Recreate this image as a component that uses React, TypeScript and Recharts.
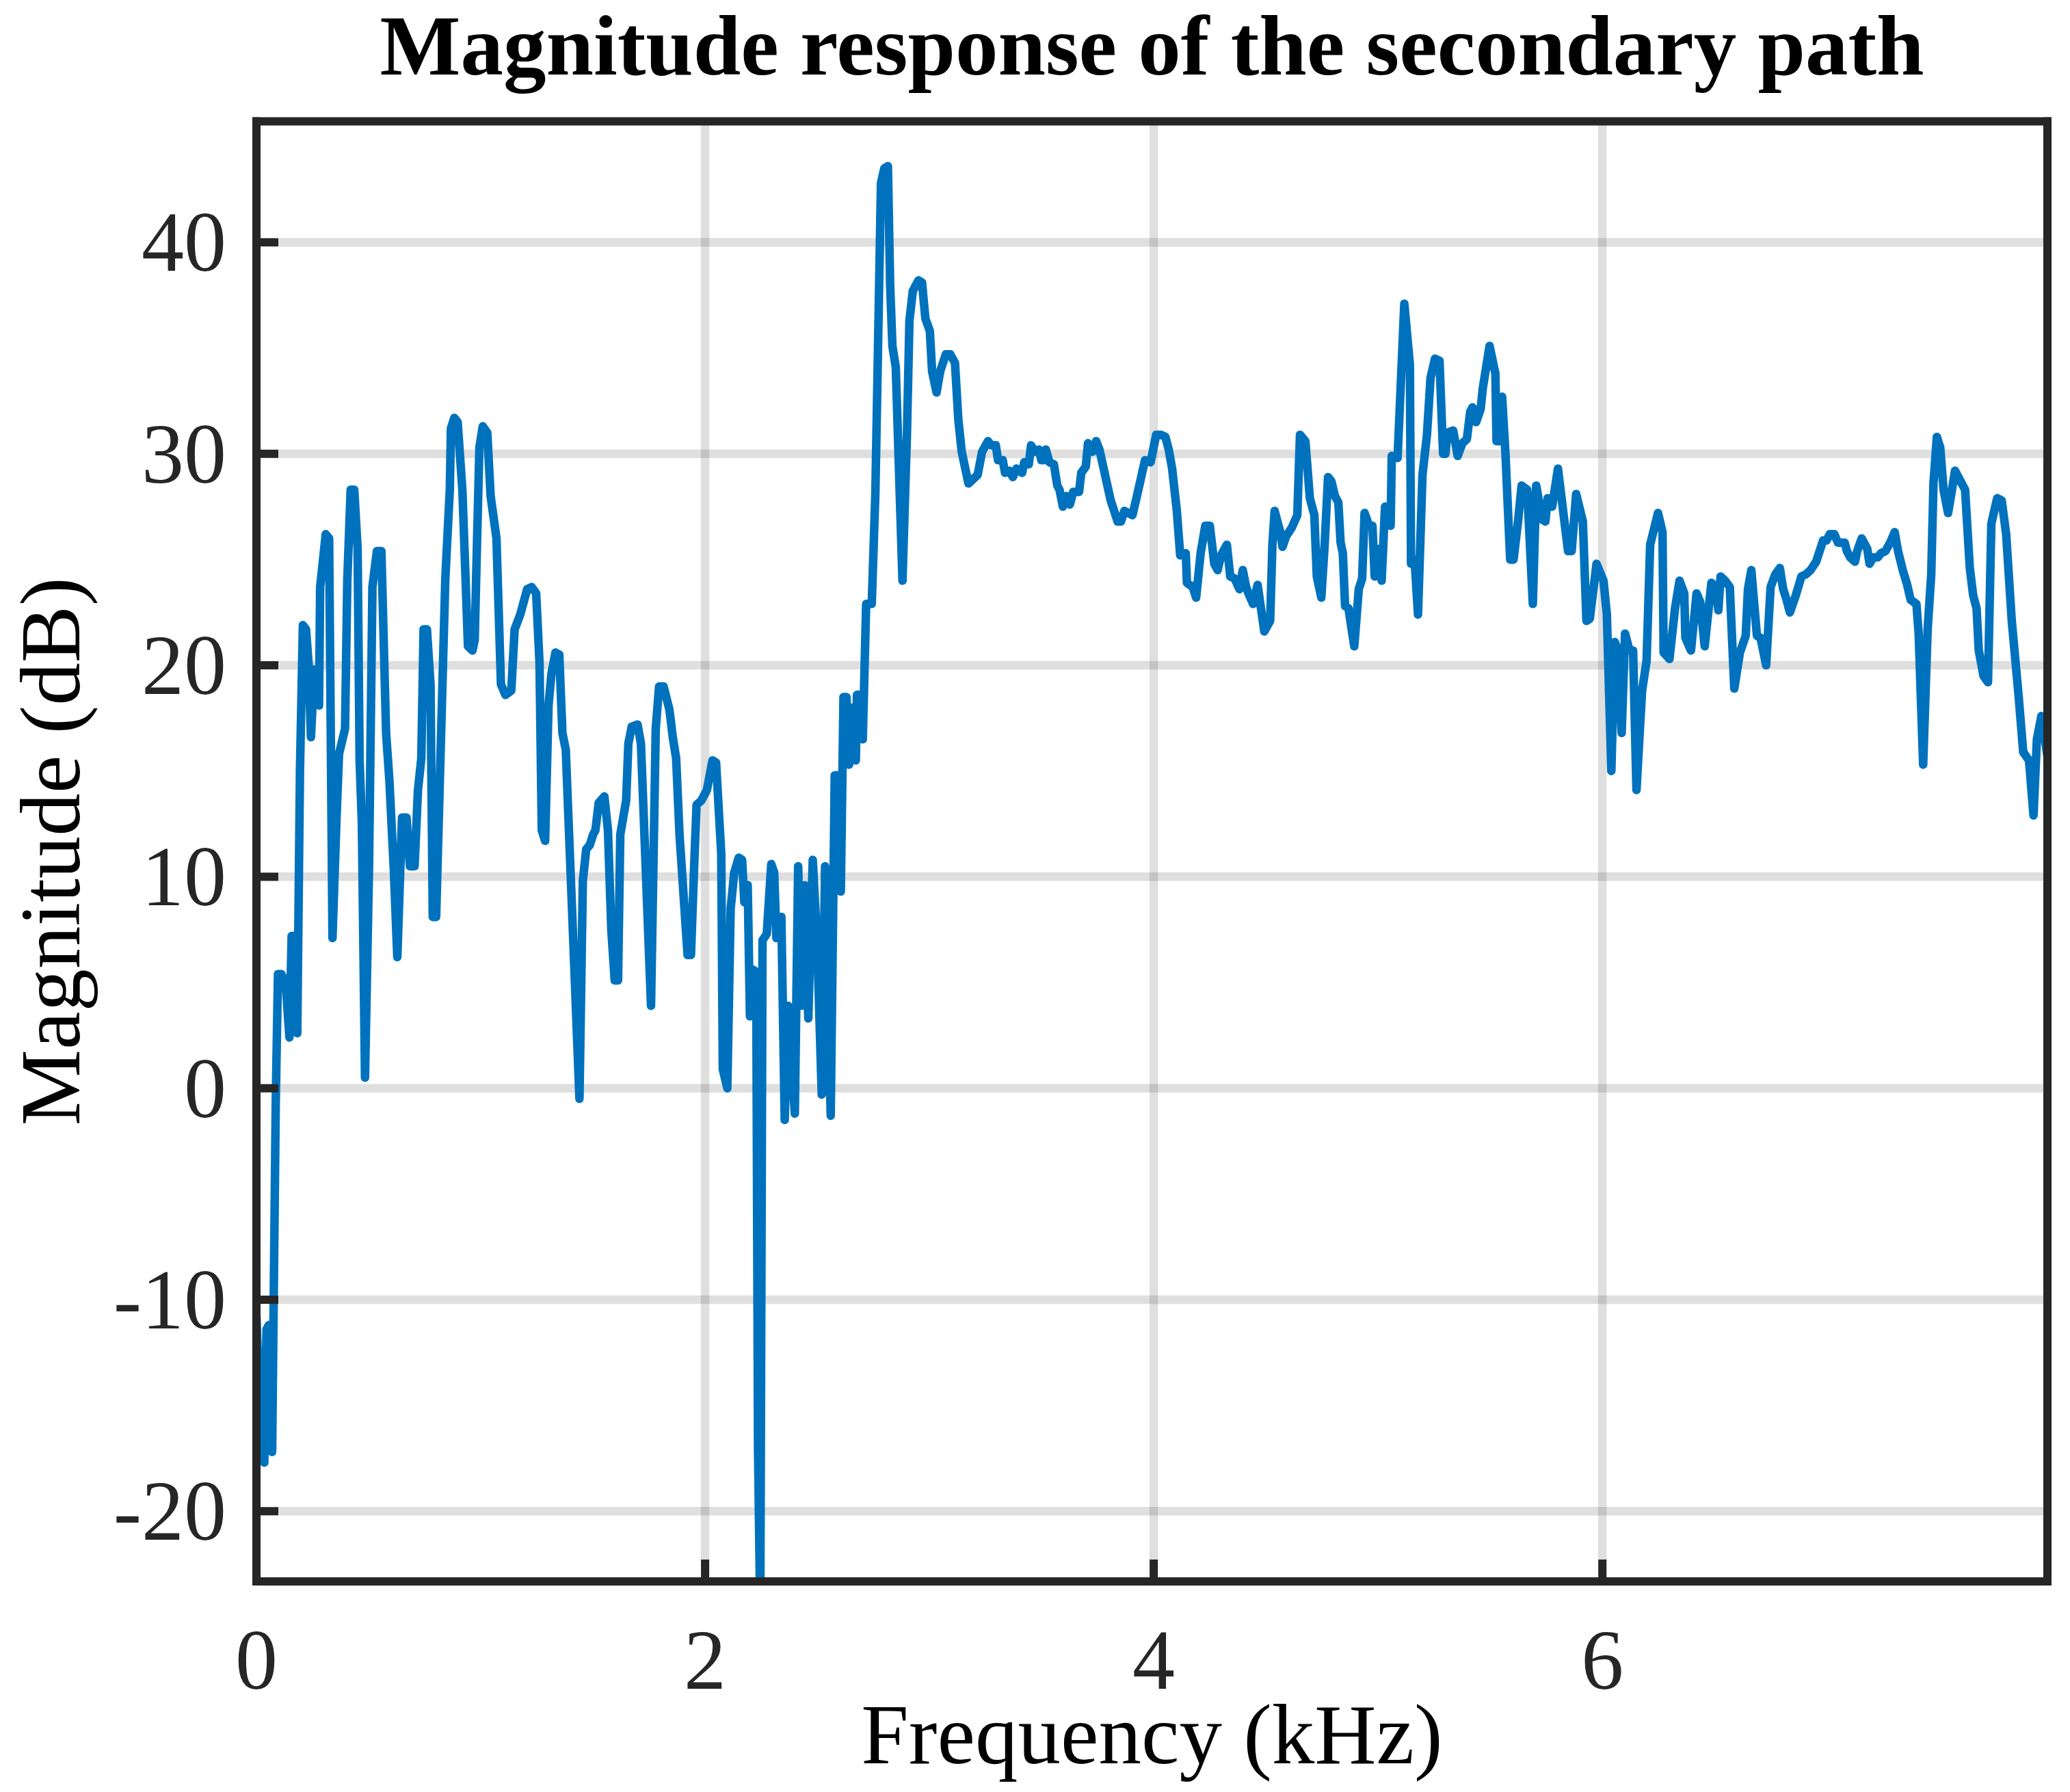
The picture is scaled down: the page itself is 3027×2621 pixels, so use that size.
import React from 'react';
import { LineChart, Line, XAxis, YAxis, CartesianGrid } from 'recharts';

const freqKHz = [
  0, 0.005, 0.035, 0.045, 0.055, 0.07, 0.086, 0.096, 0.111, 0.131, 0.147, 0.157, 0.167, 0.182, 0.194, 0.207,
  0.221, 0.233, 0.243, 0.258, 0.279, 0.284, 0.309, 0.324, 0.339, 0.357, 0.368, 0.395, 0.405, 0.42, 0.436, 0.451,
  0.46, 0.47, 0.484, 0.502, 0.517, 0.537, 0.557, 0.578, 0.593, 0.613, 0.628, 0.649, 0.669, 0.684, 0.705, 0.72,
  0.735, 0.745, 0.76, 0.776, 0.786, 0.801, 0.831, 0.842, 0.862, 0.867, 0.882, 0.897, 0.918, 0.943, 0.963, 0.973,
  0.983, 0.994, 1.009, 1.029, 1.044, 1.07, 1.09, 1.11, 1.136, 1.151, 1.176, 1.207, 1.227, 1.247, 1.262, 1.272,
  1.287, 1.302, 1.315, 1.333, 1.35, 1.364, 1.379, 1.44, 1.455, 1.47, 1.486, 1.501, 1.511, 1.526, 1.551, 1.567,
  1.582, 1.597, 1.612, 1.622, 1.648, 1.658, 1.673, 1.699, 1.714, 1.759, 1.78, 1.795, 1.815, 1.841, 1.856, 1.871,
  1.886, 1.922, 1.937, 1.952, 1.962, 1.983, 2.008, 2.033, 2.049, 2.072, 2.079, 2.099, 2.114, 2.13, 2.15, 2.165,
  2.175, 2.19, 2.2, 2.215, 2.228, 2.236, 2.246, 2.256, 2.275, 2.295, 2.308, 2.318, 2.34, 2.355, 2.37, 2.4,
  2.415, 2.43, 2.445, 2.46, 2.48, 2.5, 2.52, 2.535, 2.56, 2.578, 2.592, 2.605, 2.617, 2.63, 2.642, 2.652,
  2.672, 2.677, 2.69, 2.703, 2.718, 2.743, 2.759, 2.769, 2.784, 2.799, 2.815, 2.825, 2.835, 2.85, 2.88, 2.9,
  2.911, 2.926, 2.951, 2.967, 2.982, 3.002, 3.012, 3.032, 3.048, 3.073, 3.093, 3.114, 3.129, 3.144, 3.174, 3.215,
  3.235, 3.261, 3.276, 3.296, 3.306, 3.327, 3.337, 3.357, 3.372, 3.388, 3.413, 3.423, 3.443, 3.453, 3.469, 3.489,
  3.499, 3.509, 3.519, 3.535, 3.555, 3.57, 3.58, 3.595, 3.611, 3.626, 3.641, 3.667, 3.677, 3.697, 3.707, 3.727,
  3.743, 3.758, 3.783, 3.808, 3.839, 3.854, 3.869, 3.905, 3.925, 3.94, 3.961, 3.986, 4.011, 4.032, 4.052, 4.067,
  4.082, 4.103, 4.118, 4.143, 4.148, 4.174, 4.189, 4.209, 4.23, 4.25, 4.27, 4.285, 4.3, 4.326, 4.341, 4.361,
  4.382, 4.397, 4.412, 4.422, 4.443, 4.463, 4.478, 4.493, 4.519, 4.529, 4.539, 4.564, 4.574, 4.59, 4.615, 4.64,
  4.652, 4.676, 4.696, 4.716, 4.727, 4.747, 4.762, 4.777, 4.792, 4.808, 4.823, 4.833, 4.843, 4.853, 4.868, 4.894,
  4.914, 4.929, 4.94, 4.96, 4.975, 4.985, 5.0, 5.016, 5.031, 5.056, 5.061, 5.087, 5.117, 5.142, 5.147, 5.163,
  5.178, 5.198, 5.218, 5.234, 5.254, 5.274, 5.29, 5.3, 5.31, 5.335, 5.355, 5.376, 5.396, 5.411, 5.421, 5.437,
  5.457, 5.467, 5.497, 5.523, 5.528, 5.543, 5.553, 5.568, 5.589, 5.604, 5.624, 5.64, 5.665, 5.69, 5.705, 5.731,
  5.746, 5.756, 5.776, 5.802, 5.832, 5.847, 5.863, 5.883, 5.913, 5.929, 5.944, 5.974, 6.005, 6.02, 6.04, 6.055,
  6.07, 6.086, 6.101, 6.121, 6.137, 6.152, 6.177, 6.197, 6.213, 6.248, 6.268, 6.273, 6.299, 6.324, 6.344, 6.365,
  6.37, 6.395, 6.42, 6.436, 6.456, 6.486, 6.507, 6.517, 6.527, 6.547, 6.568, 6.588, 6.613, 6.639, 6.649, 6.664,
  6.689, 6.705, 6.73, 6.75, 6.771, 6.791, 6.806, 6.821, 6.836, 6.862, 6.887, 6.907, 6.928, 6.953, 6.984, 6.999,
  7.014, 7.034, 7.05, 7.08, 7.09, 7.105, 7.126, 7.136, 7.156, 7.181, 7.191, 7.207, 7.227, 7.242, 7.262, 7.283,
  7.303, 7.318, 7.339, 7.359, 7.374, 7.4, 7.41, 7.43, 7.45, 7.466, 7.476, 7.491, 7.506, 7.521, 7.541, 7.557,
  7.572, 7.597, 7.617, 7.638, 7.653, 7.668, 7.678, 7.699, 7.719, 7.734, 7.76, 7.78, 7.8, 7.825, 7.856, 7.876,
  7.902, 7.922, 7.937, 7.957, 7.984,
];

const magDB = [
  -10.8, -12.3, -17.7, -11.4, -11.2, -17.2, -0.7, 5.4, 5.4, 4.9, 2.4, 7.2, 7.2, 2.6, 15.0, 21.9,
  21.7, 20.0, 16.6, 19.8, 18.1, 23.7, 26.2, 26.0, 7.1, 12.8, 15.8, 17.0, 24.0, 28.3, 28.3, 25.5,
  15.5, 12.5, 0.5, 10.5, 23.7, 25.4, 25.4, 16.8, 14.5, 10.2, 6.2, 12.8, 12.8, 10.5, 10.5, 14.1,
  15.6, 21.7, 21.7, 19.1, 8.1, 8.1, 19.8, 24.1, 28.3, 31.2, 31.7, 31.5, 28.3, 20.9, 20.7, 21.2,
  25.7, 30.3, 31.3, 31.0, 28.0, 26.0, 19.1, 18.6, 18.8, 21.7, 22.4, 23.6, 23.7, 23.4, 20.1, 12.2,
  11.7, 18.1, 19.6, 20.6, 20.5, 16.8, 16.0, -0.5, 9.8, 11.3, 11.5, 12.0, 12.2, 13.5, 13.8, 12.2,
  7.5, 5.1, 5.1, 12.0, 13.6, 16.3, 17.1, 17.2, 16.3, 3.9, 17.0, 19.0, 19.0, 17.9, 16.6, 15.6,
  12.0, 6.3, 6.3, 10.7, 13.4, 13.6, 14.1, 15.5, 15.4, 11.1, 0.9, 0.0, 8.5, 10.2, 10.9, 10.8,
  8.8, 9.6, 3.4, 5.6, 5.5, -17.0, -25.0, 7.0, 7.3, 10.6, 10.2, 7.1, 8.1, -1.5, 3.9, -1.2,
  10.5, 3.9, 9.6, 3.3, 10.8, 6.8, -0.3, 10.5, -1.3, 14.8, 14.8, 9.3, 18.5, 18.5, 15.3, 18.0,
  15.5, 18.6, 18.6, 16.5, 22.9, 22.9, 28.1, 33.9, 42.8, 43.5, 43.6, 38.0, 35.1, 34.1, 24.0, 31.0,
  36.3, 37.7, 38.2, 38.1, 36.4, 35.8, 33.9, 32.9, 33.9, 34.7, 34.7, 34.3, 31.6, 30.1, 28.6, 29.0,
  30.1, 30.6, 30.4, 30.4, 29.7, 29.7, 29.1, 29.2, 28.9, 29.3, 29.1, 29.6, 29.5, 30.4, 30.1, 30.2,
  29.7, 29.7, 30.2, 29.6, 29.5, 28.5, 28.3, 27.5, 28.0, 27.6, 28.2, 28.2, 29.1, 29.4, 30.5, 30.1,
  30.6, 30.2, 29.0, 27.8, 26.8, 26.8, 27.3, 27.1, 28.0, 28.7, 29.7, 29.6, 30.9, 30.9, 30.8, 30.2,
  29.3, 27.3, 25.2, 25.3, 23.9, 23.7, 23.2, 25.3, 26.6, 26.6, 24.8, 24.5, 25.2, 25.7, 24.2, 24.1,
  23.6, 24.5, 23.7, 23.4, 22.9, 23.8, 22.7, 21.6, 22.1, 25.7, 27.3, 26.3, 25.6, 26.1, 26.5, 27.1,
  30.9, 30.6, 27.9, 27.1, 24.2, 23.2, 25.7, 28.9, 28.7, 28.0, 27.7, 25.8, 25.3, 22.8, 22.7, 20.9,
  23.6, 24.1, 27.2, 26.6, 26.6, 24.2, 25.5, 24.0, 27.5, 26.6, 29.9, 29.8, 37.1, 34.2, 24.8, 25.0,
  22.4, 29.0, 30.9, 33.6, 34.5, 34.4, 30.0, 30.0, 31.0, 31.1, 29.9, 30.5, 30.7, 32.0, 32.2, 31.5,
  32.1, 33.1, 35.1, 33.8, 30.6, 30.6, 32.7, 30.0, 25.0, 25.0, 26.8, 28.5, 28.3, 22.9, 28.5, 26.9,
  26.8, 27.9, 27.5, 29.3, 26.7, 25.4, 25.4, 28.1, 26.8, 22.1, 22.2, 24.8, 24.0, 22.4, 15.0, 21.1,
  20.7, 16.8, 21.5, 20.7, 20.7, 14.1, 18.8, 20.2, 25.7, 27.2, 26.3, 20.6, 20.3, 22.7, 24.0, 23.4,
  21.3, 20.7, 23.4, 23.0, 20.9, 23.9, 23.7, 22.6, 24.2, 24.0, 23.7, 18.9, 20.6, 21.4, 23.6, 24.5,
  21.4, 21.3, 20.0, 23.7, 24.3, 24.6, 23.6, 23.1, 22.5, 23.3, 24.2, 24.3, 24.5, 24.9, 25.9, 25.9,
  26.2, 26.2, 25.8, 25.8, 25.4, 25.1, 24.9, 25.4, 26.0, 25.5, 24.8, 25.1, 25.1, 25.3, 25.4, 25.8,
  26.3, 25.4, 24.5, 23.8, 23.1, 22.9, 21.5, 15.3, 21.7, 24.3, 28.6, 30.8, 30.3, 28.3, 27.2, 28.2,
  29.2, 28.7, 28.3, 24.6, 23.3, 22.7, 20.7, 19.5, 19.2, 26.7, 27.9, 27.8, 26.2, 22.1, 18.5, 15.9,
  15.5, 12.9, 16.5, 17.6, 15.7,
];

const xTicks = [0, 2, 4, 6];
const yTicks = [-20, -10, 0, 10, 20, 30, 40];
const xDomain = [0, 7.984];
const yDomain = [-23.32, 45.72];

const titleText = 'Magnitude response of the secondary path';
const xLabelText = 'Frequency (kHz)';
const yLabelText = 'Magnitude (dB)';

const data = freqKHz.map((f, i) => ({ f, mag: magDB[i] }));

const FONT = '"Liberation Serif", "Times New Roman", Times, serif';
const AXIS = '#262626';
const LINE = '#0072BD';
const GRID = 'rgba(38,38,38,0.15)';

const YTick = (props: any) => {
  const { x, y, payload } = props;
  return (
    <text x={x} y={y} dy={42} textAnchor="end" fontFamily={FONT} fontSize={124} fill={AXIS}>
      {String(payload.value)}
    </text>
  );
};

const XTick = (props: any) => {
  const { x, y, payload } = props;
  return (
    <text x={x} y={y} dy={84} textAnchor="middle" fontFamily={FONT} fontSize={124} fill={AXIS}>
      {String(payload.value)}
    </text>
  );
};

const XLabel = (props: any) => {
  const vb = props.viewBox || {};
  return (
    <text x={vb.x + vb.width / 2} y={vb.y + 266} textAnchor="middle" fontFamily={FONT} fontSize={125} fill="#000">
      {xLabelText}
    </text>
  );
};

const YLabel = (props: any) => {
  const vb = props.viewBox || {};
  const cx = vb.x + 116;
  const cy = vb.y + vb.height / 2;
  return (
    <text
      x={cx}
      y={cy}
      transform={`rotate(-90, ${cx}, ${cy})`}
      textAnchor="middle"
      fontFamily={FONT}
      fontSize={125}
      fill="#000"
    >
      {yLabelText}
    </text>
  );
};

const axisLineStyle = { stroke: AXIS, strokeWidth: 12, strokeLinecap: 'square' as const };
const tickLineStyle = { stroke: AXIS, strokeWidth: 12 };

export default function App() {
  return (
    <div style={{ position: 'absolute', left: 0, top: 0, width: 3027, height: 2621, background: '#fff' }}>
      <div
        style={{
          position: 'absolute',
          left: 375,
          width: 2619,
          top: 5,
          textAlign: 'center',
          fontFamily: FONT,
          fontWeight: 'bold',
          fontSize: 125,
          lineHeight: '125px',
          color: '#000',
          whiteSpace: 'nowrap',
        }}
      >
        {titleText}
      </div>
      <LineChart
        width={3027}
        height={2621}
        data={data}
        margin={{ top: 176.5, right: 32, bottom: 0, left: 0 }}
      >
        <CartesianGrid xAxisId="bottom" yAxisId="left" stroke={GRID} strokeWidth={12.5} />
        <Line
          xAxisId="bottom"
          yAxisId="left"
          type="linear"
          dataKey="mag"
          stroke={LINE}
          strokeWidth={12.5}
          strokeLinejoin="round"
          strokeLinecap="round"
          dot={false}
          activeDot={false}
          isAnimationActive={false}
        />
        <Line
          xAxisId="top"
          yAxisId="right"
          type="linear"
          dataKey="mag"
          stroke="none"
          strokeWidth={0}
          dot={false}
          activeDot={false}
          legendType="none"
          isAnimationActive={false}
        />
        <XAxis
          xAxisId="bottom"
          dataKey="f"
          type="number"
          orientation="bottom"
          domain={xDomain}
          ticks={xTicks}
          interval={0}
          allowDataOverflow
          height={308}
          tickSize={-32}
          tickMargin={105}
          axisLine={axisLineStyle}
          tickLine={tickLineStyle}
          tick={<XTick />}
          label={<XLabel />}
        />
        <XAxis
          xAxisId="top"
          dataKey="f"
          type="number"
          orientation="top"
          domain={xDomain}
          ticks={xTicks}
          interval={0}
          allowDataOverflow
          height={1}
          tickSize={-32}
          axisLine={axisLineStyle}
          tickLine={tickLineStyle}
          tick={false}
        />
        <YAxis
          yAxisId="left"
          type="number"
          orientation="left"
          domain={yDomain}
          ticks={yTicks}
          interval={0}
          allowDataOverflow
          width={375}
          tickSize={-32}
          tickMargin={76}
          axisLine={axisLineStyle}
          tickLine={tickLineStyle}
          tick={<YTick />}
          label={<YLabel />}
        />
        <YAxis
          yAxisId="right"
          type="number"
          orientation="right"
          domain={yDomain}
          ticks={yTicks}
          interval={0}
          allowDataOverflow
          width={1}
          tickSize={-32}
          axisLine={axisLineStyle}
          tickLine={tickLineStyle}
          tick={false}
        />
      </LineChart>
    </div>
  );
}
